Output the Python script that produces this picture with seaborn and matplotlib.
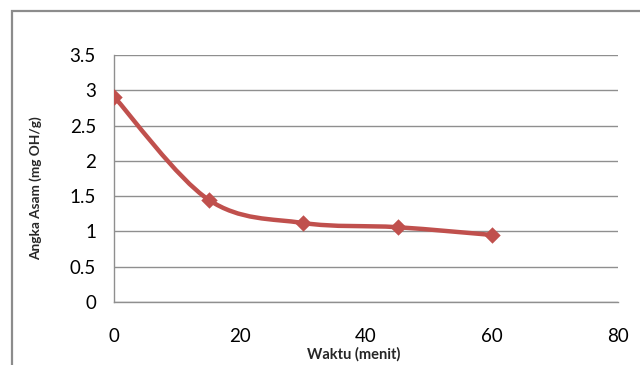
import numpy as np
import pandas as pd
import matplotlib
matplotlib.use("Agg")
import matplotlib.pyplot as plt
from matplotlib.path import Path
from matplotlib.patches import PathPatch, Rectangle
import seaborn as sns

waktu = [0, 15, 30, 45, 60]
angka_asam = [2.91, 1.45, 1.12, 1.06, 0.95]
x_ticks = [0, 20, 40, 60, 80]
y_ticks = [0, 0.5, 1, 1.5, 2, 2.5, 3, 3.5]
x_label = "Waktu (menit)"
y_label = "Angka Asam (mg OH/g)"

sns.set_theme(style="white")
plt.rcParams['font.family'] = ['Lato', 'DejaVu Sans']

color = "#C0504D"
fig = plt.figure(figsize=(6.4, 3.65), dpi=100)
W, H = 640, 365
ax = fig.add_axes([114 / W, 1 - 302 / H, (618 - 114) / W, (302 - 55) / H])

df = pd.DataFrame({"x": waktu, "y": angka_asam})

# smooth line (Excel-style Bezier smoothing) built from the data
xs = np.array(waktu, float)
ys = np.array(angka_asam, float)
pts = np.column_stack([xs, ys])
verts = [pts[0]]
codes = [Path.MOVETO]
n = len(pts)
for i in range(n - 1):
    p0 = pts[i - 1] if i > 0 else pts[i]
    p1 = pts[i]
    p2 = pts[i + 1]
    p3 = pts[i + 2] if i + 2 < n else pts[i + 1]
    c1 = p1 + (p2 - p0) / 6.0
    c2 = p2 - (p3 - p1) / 6.0
    verts += [c1, c2, p2]
    codes += [Path.CURVE4] * 3
ax.add_patch(PathPatch(Path(verts, codes), facecolor="none", edgecolor=color,
                       lw=3.2, capstyle="round", joinstyle="round", zorder=3))

sns.scatterplot(data=df, x="x", y="y", ax=ax, marker="D", s=70, color=color,
                edgecolor=color, linewidth=0, zorder=4, legend=False)

ax.set_xlim(0, 80)
ax.set_ylim(0, 3.5)
ax.set_xticks(x_ticks)
ax.set_yticks(y_ticks)
ax.set_xticklabels([str(v) for v in x_ticks])
ax.set_yticklabels([("%g" % v) for v in y_ticks])
ax.grid(axis="y", color="#8f8f8f", lw=1.0)
ax.grid(axis="x", visible=False)
ax.set_axisbelow(True)
for s in ["top", "right"]:
    ax.spines[s].set_visible(False)
for s in ["left", "bottom"]:
    ax.spines[s].set_color("#8f8f8f")
    ax.spines[s].set_linewidth(1.0)
ax.tick_params(axis="both", length=0, labelsize=13.5, colors="black")
ax.tick_params(axis="x", pad=19)
ax.tick_params(axis="y", pad=13)
ax.set_xlabel("")
ax.set_ylabel("")

fig.text(354 / W, 1 - 354 / H, x_label, ha="center", va="center",
         fontsize=10.5, fontweight="bold")
fig.text(36 / W, 1 - 188 / H, y_label, ha="center", va="center",
         rotation=90, fontsize=9.8, fontweight="bold")

fig.patches.append(Rectangle((12 / W, -0.1), 1.2, 1.1 - 11 / H,
                             transform=fig.transFigure, fill=False,
                             edgecolor="#8c8c8c", lw=1.6, zorder=0))

fig.savefig("out.png", dpi=100)
